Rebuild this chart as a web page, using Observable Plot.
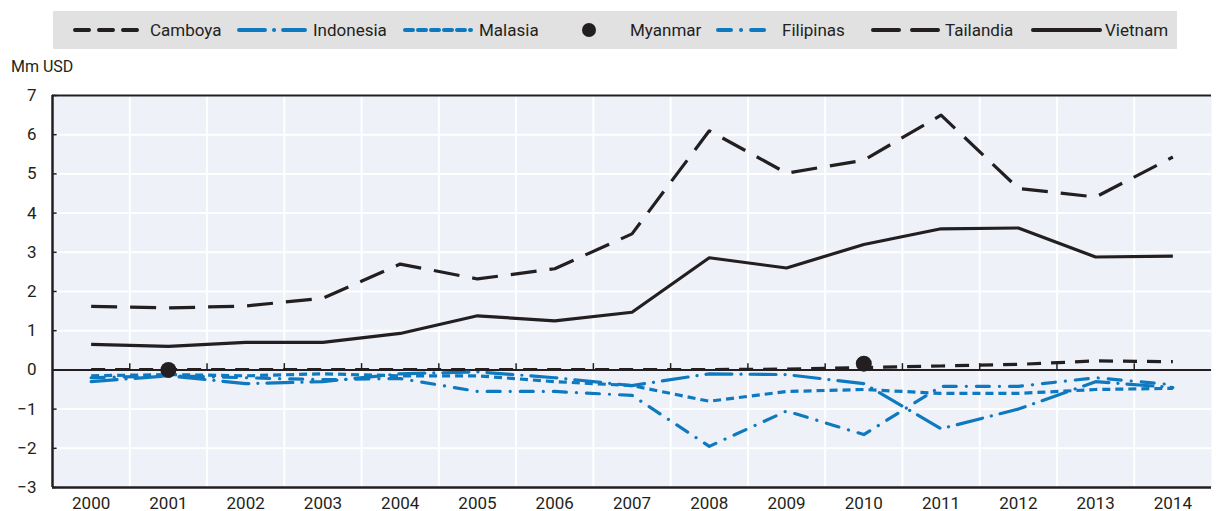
<!DOCTYPE html>
<html>
<head>
<meta charset="utf-8">
<script src="https://cdn.jsdelivr.net/npm/d3@7"></script>
<script src="https://cdn.jsdelivr.net/npm/@observablehq/plot@0.6"></script>
<style>
  html, body { margin: 0; padding: 0; background: #fff; }
  body { width: 1216px; height: 511px; overflow: hidden; font-family: "Liberation Sans Narrow", "Arial Narrow", "Roboto", sans-serif; color: #231f20; }
  #top { position: relative; width: 1216px; height: 80px; }
  #legendbox { position: absolute; left: 53px; top: 11px; width: 1124px; height: 38px; background: #e1e1e1; }
  .item { position: absolute; top: 11px; height: 38px; display: flex; align-items: center; }
  .item span { font-size: 17px; line-height: 38px; }
  #unit { position: absolute; left: 11px; top: 57px; font-size: 16px; }
</style>
</head>
<body>
<div id="top">
  <div id="legendbox"></div>
  <div id="legend"></div>
  <div id="unit">Mm USD</div>
</div>
<div id="chart"></div>
<script>
const years = [2000, 2001, 2002, 2003, 2004, 2005, 2006, 2007, 2008, 2009, 2010, 2011, 2012, 2013, 2014];
const camboya   = [0.01, 0.01, 0.01, 0.01, 0.01, 0.01, 0.01, 0.01, 0.01, 0.02, 0.06, 0.10, 0.14, 0.23, 0.21];
const indonesia = [-0.30, -0.15, -0.35, -0.30, -0.10, -0.05, -0.20, -0.40, -0.10, -0.12, -0.35, -1.50, -1.00, -0.30, -0.45];
const malasia   = [-0.15, -0.12, -0.15, -0.10, -0.15, -0.15, -0.30, -0.40, -0.80, -0.55, -0.50, -0.60, -0.60, -0.50, -0.47];
const myanmar   = [null, 0.00, null, null, null, null, null, null, null, null, 0.16, null, null, null, null];
const filipinas = [-0.20, -0.15, -0.20, -0.25, -0.22, -0.55, -0.55, -0.65, -1.95, -1.05, -1.65, -0.42, -0.42, -0.20, -0.38];
const tailandia = [1.62, 1.58, 1.63, 1.83, 2.70, 2.32, 2.58, 3.47, 6.10, 5.02, 5.35, 6.50, 4.63, 4.41, 5.43];
const vietnam   = [0.65, 0.60, 0.70, 0.70, 0.93, 1.38, 1.25, 1.47, 2.86, 2.60, 3.20, 3.60, 3.62, 2.88, 2.90];
const yTicks = [-3, -2, -1, 0, 1, 2, 3, 4, 5, 6, 7];

const DARK = "#231f20";
const BLUE = "#0f79c0";

const seriesDefs = [
  {name: "Camboya",   values: camboya,   color: DARK, dash: "14,10", kind: "line", lx: 73,  lw: 69, tx: 150},
  {name: "Indonesia", values: indonesia, color: BLUE, dash: "26,9,0.1,9", kind: "line", lx: 237, lw: 70, tx: 313},
  {name: "Malasia",   values: malasia,   color: BLUE, dash: "8,5",  kind: "line", lx: 403, lw: 70, tx: 479},
  {name: "Myanmar",   values: myanmar,   color: DARK, dash: null,   kind: "dot",  lx: 582, lw: 14, tx: 630},
  {name: "Filipinas", values: filipinas, color: BLUE, dash: "13,10,0.1,10", kind: "line", lx: 716, lw: 58, tx: 782},
  {name: "Tailandia", values: tailandia, color: DARK, dash: "26,13", kind: "line", lx: 871, lw: 70, tx: 945},
  {name: "Vietnam",   values: vietnam,   color: DARK, dash: null,   kind: "line", lx: 1031, lw: 71, tx: 1105}
];

// legend
const legend = document.getElementById("legend");
for (const s of seriesDefs) {
  const sw = document.createElement("div");
  sw.className = "item";
  sw.style.left = s.lx + "px";
  if (s.kind === "line") {
    sw.innerHTML = `<svg width="${s.lw}" height="38"><line x1="2" x2="${s.lw - 2}" y1="19" y2="19" stroke="${s.color}" stroke-width="4" stroke-linecap="round" ${s.dash ? `stroke-dasharray="${s.dash}"` : ""}/></svg>`;
  } else {
    sw.innerHTML = `<svg width="${s.lw}" height="38"><circle cx="7" cy="19" r="7" fill="${s.color}"/></svg>`;
  }
  legend.appendChild(sw);
  const tx = document.createElement("div");
  tx.className = "item";
  tx.style.left = s.tx + "px";
  tx.innerHTML = `<span>${s.name}</span>`;
  legend.appendChild(tx);
}

const rows = [];
for (const s of seriesDefs) {
  years.forEach((yr, i) => {
    if (s.values[i] != null) rows.push({series: s.name, year: yr, value: s.values[i]});
  });
}
const bounds = years.slice(0, -1).map(y => y + 0.5);
const x0 = years[0] - 0.5, x1 = years[years.length - 1] + 0.5;

const marks = [
  Plot.frame({fill: "#eef1f8", stroke: null}),
  Plot.ruleY(yTicks, {stroke: "#fff", strokeWidth: 2}),
  Plot.ruleX(bounds, {stroke: "#fff", strokeWidth: 2}),
  Plot.ruleX(bounds, {y1: 0, y2: 0.16, stroke: DARK, strokeWidth: 1.5}),
  Plot.ruleY(yTicks, {x1: x0, x2: x0 + 0.06, stroke: DARK, strokeWidth: 1.5}),
  Plot.ruleY([0], {stroke: DARK, strokeWidth: 2}),
  Plot.ruleY([yTicks[yTicks.length - 1]], {stroke: DARK, strokeWidth: 2}),
  Plot.ruleY([yTicks[0]], {stroke: DARK, strokeWidth: 2.5}),
  Plot.ruleX([x0], {stroke: DARK, strokeWidth: 2.5})
];
// blue series first, then black
const order = ["Malasia", "Filipinas", "Indonesia", "Camboya", "Vietnam", "Tailandia", "Myanmar"];
for (const name of order) {
  const s = seriesDefs.find(d => d.name === name);
  const data = rows.filter(r => r.series === name);
  if (s.kind === "line") {
    marks.push(Plot.line(data, {x: "year", y: "value", stroke: s.color, strokeWidth: 3.2,
      strokeDasharray: s.dash || undefined, strokeLinecap: s.dash && s.dash.includes("0.1") ? "round" : "butt", strokeLinejoin: "round"}));
  } else {
    marks.push(Plot.dot(data, {x: "year", y: "value", r: 8, fill: s.color, stroke: null}));
  }
}
marks.push(Plot.axisX(years, {tickSize: 0, tickPadding: 9, tickFormat: d => String(d), fontSize: 17, label: null}));
marks.push(Plot.axisY(yTicks, {tickSize: 0, tickPadding: 16, fontSize: 17, label: null}));

const chart = Plot.plot({
  width: 1216,
  height: 431,
  marginTop: 15,
  marginBottom: 24,
  marginLeft: 52,
  marginRight: 5,
  x: {type: "linear", domain: [x0, x1], label: null},
  y: {domain: [yTicks[0], yTicks[yTicks.length - 1]], label: null},
  style: {fontFamily: '"Liberation Sans Narrow", "Arial Narrow", Roboto, sans-serif', fontSize: "17px", color: DARK, background: "transparent", overflow: "visible"},
  marks
});
document.getElementById("chart").appendChild(chart);
</script>
</body>
</html>
